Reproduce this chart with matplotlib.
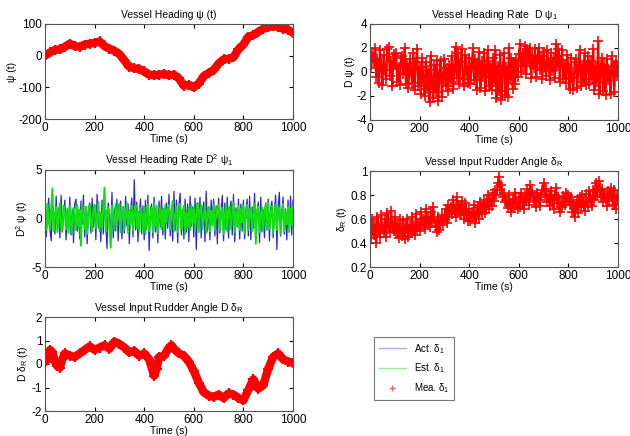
import numpy as np
import matplotlib
matplotlib.use("Agg")
from matplotlib import pyplot as plt
from matplotlib.lines import Line2D

plt.rcParams['font.family'] = ['Liberation Sans', 'DejaVu Sans']
plt.rcParams['mathtext.fontset'] = 'custom'
plt.rcParams['mathtext.rm'] = 'Liberation Sans'
plt.rcParams['mathtext.it'] = 'Liberation Sans'
plt.rcParams['axes.unicode_minus'] = False
plt.rcParams['font.size'] = 7

# heading psi, every 20 s
t_head = np.arange(0, 1001, 20)
psi = [0, 10, 18, 20, 28, 38, 30, 28, 35, 38,
       40, 45, 30, 22, 15, 5, -15, -35, -40, -42,
       -50, -60, -62, -60, -58, -62, -60, -72, -95, -92,
       -100, -88, -65, -55, -45, -25, -12, -10, -5, 20,
       35, 60, 65, 75, 85, 90, 95, 90, 85, 82, 72]

# samples every 5 s
t5 = np.arange(0, 1001, 5)

# heading rate D psi (measured)
dpsi = [1.2, 0.3, 1.6, 0.8, 2.0, -0.4, 1.1, -0.9, 1.8, 0.5, -1.1, 1.4, 0.2, -0.6, 1.9, 2.1, -0.3, 0.9, -1.2, 1.5,
        0.6, 1.6, -0.8, 0.4, -1.1, 1.2, 1.3, -0.2, 2.0, -1.0, 0.7, -1.3, 1.1, 0.1, -0.9, 1.6, -1.5, 0.8, 1.9, -1.2,
        0.4, -1.8, 1.2, -0.6, -2.0, 0.8, -1.4, 0.2, -2.5, 1.3, -0.9, -2.2, 0.6, -1.7, 1.0, -2.4, -0.3, 0.9, -2.1, -0.5,
        1.1, -1.2, 0.3, -1.6, 0.6, -0.8, 1.3, -1.4, 0.2, 2.1, -0.5, 1.6, -1.0, 0.8, 1.9, -0.6, -1.2, 1.4, 0.1, -0.9,
        1.2, -1.0, 0.5, 2.0, -0.7, 1.1, -1.5, 0.4, 1.7, -1.3, 0.9, -0.4, 1.6, -1.6, 0.3, 1.8, -1.2, 0.6, -1.5, 1.2,
        -0.8, 1.8, -2.2, 0.5, -1.6, 1.4, -2.3, 0.2, 1.6, -1.9, 0.4, -2.1, 2.0, -0.6, 1.2, -1.4, 0.8, -1.0, 1.0, -0.4,
        1.5, 2.3, 0.0, 1.6, 0.5, 2.2, -0.2, 1.9, 0.8, 2.0, -0.5, 1.4, 0.3, 1.9, -0.4, 1.0, 2.0, 0.2, 1.3, -0.6,
        1.7, 0.4, -0.3, 1.8, 0.6, -0.7, 1.6, 0.1, 1.2, -0.5, 2.3, 0.5, 1.9, -0.8, 1.0, 1.8, -0.6, 0.7, -0.9, 1.4,
        0.3, -1.4, 1.2, -0.5, -1.5, 0.8, 1.1, -1.3, 0.2, 1.8, -1.2, 0.6, -0.8, 1.6, -1.1, 0.4, 1.3, -1.0, 0.9, -0.6,
        1.9, -1.5, 0.5, -0.8, 2.6, -1.8, 0.3, 1.2, -1.6, 0.6, -1.9, 1.1, -0.7, 0.2, -1.8, 1.3, 0.4, -1.7, 0.9, -0.3,
        0.5]

# D^2 psi actual (blue) and estimated (green)
d2_act = [1.3, -1.9, 0.6, 2.1, -1.2, -2.3, 1.7, 0.4, -1.6, 2.3, -0.8, 1.1, -2.0, 2.4, -1.4, 0.3, 1.9, -2.2, 1.0, -1.1,
          2.2, -1.7, 0.9, -2.5, 1.5, 2.0, -1.3, 0.5, -2.1, 1.8, -0.6, 2.4, -1.9, 1.2, -2.6, 0.8, 1.6, -1.5, 2.1, -0.9,
          1.4, -2.2, 2.5, -1.0, 0.7, -2.4, 1.9, -1.6, 2.2, -0.5, -3.1, 1.6, 0.2, -1.8, 2.7, -2.0, 1.1, -1.3, 2.0, -2.3,
          0.9, 1.8, -2.1, 1.2, -1.5, 2.3, -0.8, 1.5, -2.6, 0.6, 2.1, -1.9, 4.0, -1.2, 1.7, -2.4, 0.4, 2.0, -1.6, 1.3,
          -2.2, 1.9, -1.1, 2.4, -3.3, 0.8, 1.5, -2.0, 2.2, -1.4, 0.7, -2.5, 1.8, -0.9, 2.3, -1.7, 1.1, -2.1, 1.6, -1.0,
          2.5, -1.8, 0.6, -2.3, 2.8, -1.2, 1.9, -2.5, 1.3, 2.6, -1.7, 0.9, -2.1, 2.0, -1.4, 1.5, -2.4, 2.3, -0.8, 1.2,
          -1.9, 2.1, -3.2, 1.4, -1.1, 2.2, -2.0, 0.8, 1.7, -2.4, 2.8, -1.3, 1.0, -2.2, 1.9, -0.7, 2.0, -1.8, 1.3, -2.6,
          2.1, -1.5, 0.7, 2.4, -2.3, 1.6, -1.2, 2.2, -2.0, 0.9, 1.8, -1.7, 2.5, -2.4, 1.1, -0.9, 2.0, -2.1, 1.5, -1.3,
          1.9, -2.1, 0.8, 2.0, -1.8, 2.3, -2.2, 1.2, -1.0, 2.6, -1.9, 0.5, 1.7, -2.5, 2.2, -1.4, 0.9, -2.0, 1.6, -1.2,
          2.0, -2.3, 1.1, 1.8, -2.0, 0.7, 2.4, -3.2, 1.3, 2.7, -1.8, 0.6, 2.2, -1.6, 1.0, -2.2, 1.9, -1.4, 2.3, -1.7,
          1.9]
d2_est = [0.8, -1.2, 1.5, -0.4, -1.0, 1.1, 3.1, -1.3, 0.5, 1.2, -1.4, 0.3, 1.6, -0.9, -1.2, 1.3, 0.6, -1.1, 1.0, -1.5,
          1.3, -0.6, -1.5, 1.1, 0.4, -1.2, 1.4, -0.8, 0.9, -2.8, 1.5, 0.2, -1.1, 1.2, -1.6, 0.7, 1.4, -0.5, -1.3, 1.0,
          1.4, -1.0, 0.3, 1.7, -1.3, 0.6, -0.9, 1.2, 3.2, -1.4, 0.8, 1.1, -1.0, -3.0, 1.3, 0.4, -1.2, 1.5, -0.7, 1.0,
          1.5, -1.4, 0.5, 1.2, -1.1, 0.2, 1.6, -1.5, 0.9, -0.6, 1.3, -1.2, 0.4, 1.4, -1.0, 0.7, -1.4, 1.1, 0.3, -1.2,
          1.2, -1.6, 0.6, 1.5, -1.3, 0.1, 1.1, -1.4, 1.6, -0.8, 1.3, -1.5, 0.5, 1.2, -1.1, 0.9, -1.3, 1.4, -0.4, 1.0,
          1.4, -1.1, 0.7, 1.8, -1.3, 0.3, 1.2, -1.4, 0.8, 1.5, -1.0, 0.4, 1.3, -1.6, 0.6, -0.9, 1.1, -1.2, 1.4, -0.5,
          1.1, -1.2, 0.5, 1.6, -1.4, 0.9, 1.3, -1.1, 0.2, 1.5, -1.5, 0.6, 1.2, -1.3, 0.8, -0.7, 1.4, -1.2, 0.4, 1.1,
          1.4, -1.2, 0.6, 1.1, -1.6, 0.3, 1.5, -1.3, 0.9, 1.2, -1.1, 0.5, 1.6, -1.4, 0.7, -0.8, 1.3, -1.2, 1.0, -0.4,
          1.3, -1.5, 0.4, 1.4, -1.2, 0.8, 1.1, -1.3, 0.6, 1.5, -2.6, 0.9, 1.2, -1.4, 0.3, 1.1, -1.2, 0.7, 1.4, -1.0,
          1.6, -1.1, 0.5, 1.3, -1.5, 0.2, 1.4, -1.2, 0.9, 1.1, -1.6, 0.4, 1.5, -1.3, 0.8, -0.6, 1.2, -1.4, 1.0, -0.7,
          1.2]

# rudder angle delta_R (measured)
delta_r = [0.52, 0.44, 0.60, 0.47, 0.55, 0.40, 0.62, 0.50, 0.45, 0.63, 0.52, 0.48, 0.60, 0.45, 0.65, 0.53, 0.49, 0.67, 0.55, 0.50,
           0.62, 0.48, 0.56, 0.44, 0.60, 0.50, 0.46, 0.58, 0.43, 0.53, 0.60, 0.45, 0.55, 0.48, 0.62, 0.50, 0.47, 0.64, 0.52, 0.57,
           0.50, 0.66, 0.55, 0.60, 0.52, 0.68, 0.57, 0.62, 0.53, 0.66, 0.58, 0.70, 0.60, 0.54, 0.49, 0.62, 0.51, 0.58, 0.63, 0.55,
           0.60, 0.68, 0.57, 0.72, 0.62, 0.70, 0.64, 0.76, 0.68, 0.62, 0.78, 0.66, 0.72, 0.63, 0.75, 0.67, 0.60, 0.73, 0.64, 0.58,
           0.68, 0.58, 0.66, 0.62, 0.72, 0.57, 0.66, 0.70, 0.60, 0.74, 0.64, 0.70, 0.76, 0.65, 0.73, 0.80, 0.68, 0.77, 0.71, 0.82,
           0.75, 0.84, 0.80, 0.90, 0.95, 0.84, 0.88, 0.78, 0.82, 0.74, 0.76, 0.69, 0.80, 0.72, 0.66, 0.77, 0.70, 0.82, 0.73, 0.68,
           0.78, 0.70, 0.82, 0.74, 0.68, 0.80, 0.76, 0.85, 0.72, 0.88, 0.79, 0.83, 0.74, 0.78, 0.70, 0.82, 0.76, 0.71, 0.80, 0.84,
           0.90, 0.78, 0.85, 0.74, 0.80, 0.71, 0.83, 0.76, 0.68, 0.80, 0.86, 0.73, 0.78, 0.66, 0.74, 0.70, 0.79, 0.72, 0.82, 0.75,
           0.80, 0.72, 0.78, 0.66, 0.74, 0.62, 0.70, 0.76, 0.65, 0.78, 0.70, 0.80, 0.73, 0.67, 0.81, 0.74, 0.70, 0.83, 0.76, 0.71,
           0.84, 0.76, 0.90, 0.80, 0.86, 0.92, 0.78, 0.85, 0.74, 0.82, 0.77, 0.71, 0.83, 0.75, 0.86, 0.79, 0.72, 0.84, 0.68, 0.80,
           0.76]

# rudder angle rate D delta_R
t_ddr = [0, 10, 20, 30, 40, 50, 60, 70, 80, 100, 120, 140, 160, 180, 200,
         220, 240, 260, 280, 300, 320, 340, 360, 380, 400, 420, 440, 450,
         460, 480, 500, 510, 520, 540, 560, 580, 600, 620, 640, 660, 680,
         700, 720, 740, 760, 780, 800, 820, 840, 860, 880, 900, 920, 940,
         960, 980, 1000]
ddr = [0.1, 0.2, 0.6, 0.5, 0.1, -0.1, -0.15, 0.2, 0.45, 0.35, 0.3, 0.45,
       0.6, 0.75, 0.6, 0.7, 0.8, 0.65, 0.95, 0.85, 0.7, 0.5, 0.55, 0.35,
       0.45, 0.2, -0.5, -0.2, 0.3, 0.35, 0.7, 0.8, 0.65, 0.45, 0.35, 0.1,
       -0.3, -0.8, -1.2, -1.35, -1.4, -1.3, -1.45, -1.25, -1.3, -1.45,
       -1.55, -1.1, -0.65, -1.05, -0.9, -0.2, 0.3, 0.45, 0.2, 0.1, 0.05]

fig = plt.figure(figsize=(6.3, 4.36), dpi=100)
W, H = 630.0, 436.0


def mkax(l, t, r, b):
    ax = fig.add_axes([l / W, 1 - b / H, (r - l) / W, (b - t) / H])
    ax.tick_params(direction='in', top=True, right=True, length=3,
                   labelsize=8.5, pad=2)
    for s in ax.spines.values():
        s.set_color('#555555')
        s.set_linewidth(0.8)
    ax.set_xlim(0, 1000)
    ax.set_xticks([0, 200, 400, 600, 800, 1000])
    ax.set_xlabel('Time (s)', fontsize=7.5, labelpad=0)
    return ax


ax1 = mkax(45, 24, 293, 119)
ax1.plot(t_head, psi, 'r-', lw=6)
ax1.plot(t_head, psi, 'r+', ms=7, mew=1.5)
ax1.set_ylim(-200, 100)
ax1.set_yticks([-200, -100, 0, 100])
ax1.set_ylabel('ψ (t)', fontsize=7.5, labelpad=1)
ax1.set_title('Vessel Heading ψ (t)', fontsize=7.5, pad=4)

ax2 = mkax(370, 24, 618, 120)
ax2.plot(t5, dpsi, 'r-', lw=1.6)
ax2.plot(t5, dpsi, 'r+', ms=7, mew=1.2)
ax2.set_ylim(-4, 4)
ax2.set_yticks([-4, -2, 0, 2, 4])
ax2.set_ylabel('D ψ (t)', fontsize=7.5, labelpad=1)
ax2.set_title('Vessel Heading Rate  D ψ$_1$', fontsize=7.5, pad=4)

ax3 = mkax(45, 170, 293, 267)
ax3.plot(t5, d2_act, color='#2828d8', lw=0.9)
ax3.plot(t5, d2_est, color='#10e010', lw=1.4)
ax3.set_ylim(-5, 5)
ax3.set_yticks([-5, 0, 5])
ax3.set_ylabel('D$^2$ ψ (t)', fontsize=7.5, labelpad=1)
ax3.set_title('Vessel Heading Rate D$^2$ ψ$_1$', fontsize=7.5, pad=4)

ax4 = mkax(370, 171, 618, 267)
ax4.plot(t5, delta_r, 'r-', lw=1.6)
ax4.plot(t5, delta_r, 'r+', ms=7, mew=1.2)
ax4.set_ylim(0.2, 1)
ax4.set_yticks([0.2, 0.4, 0.6, 0.8, 1])
ax4.set_yticklabels(['0.2', '0.4', '0.6', '0.8', '1'])
ax4.set_ylabel('δ$_\\mathrm{R}$ (t)', fontsize=7.5, labelpad=1)
ax4.set_title('Vessel Input Rudder Angle δ$_\\mathrm{R}$', fontsize=7.5, pad=4)

ax5 = mkax(45, 317, 293, 411)
ax5.plot(t_ddr, ddr, 'r-', lw=6)
ax5.plot(t_ddr, ddr, 'r+', ms=7, mew=1.5)
ax5.set_ylim(-2, 2)
ax5.set_yticks([-2, -1, 0, 1, 2])
ax5.set_ylabel('D δ$_\\mathrm{R}$ (t)', fontsize=7.5, labelpad=1)
ax5.set_title('Vessel Input Rudder Angle D δ$_\\mathrm{R}$', fontsize=7.5, pad=4)

handles = [Line2D([], [], color='#b0b0ff', lw=1),
           Line2D([], [], color='#90f090', lw=1),
           Line2D([], [], color='#ff6060', ls='none', marker='+', ms=5)]
leg = fig.legend(handles, ['Act. δ$_1$', 'Est. δ$_1$', 'Mea. δ$_1$'],
                 loc='upper left', bbox_to_anchor=(374 / W, 1 - 337 / H),
                 fontsize=7, frameon=True, fancybox=False, handlelength=2.8,
                 borderpad=0.5, labelspacing=0.6, borderaxespad=0)
leg.get_frame().set_edgecolor('#555555')
leg.get_frame().set_linewidth(0.8)

fig.savefig('out.png', dpi=100)
